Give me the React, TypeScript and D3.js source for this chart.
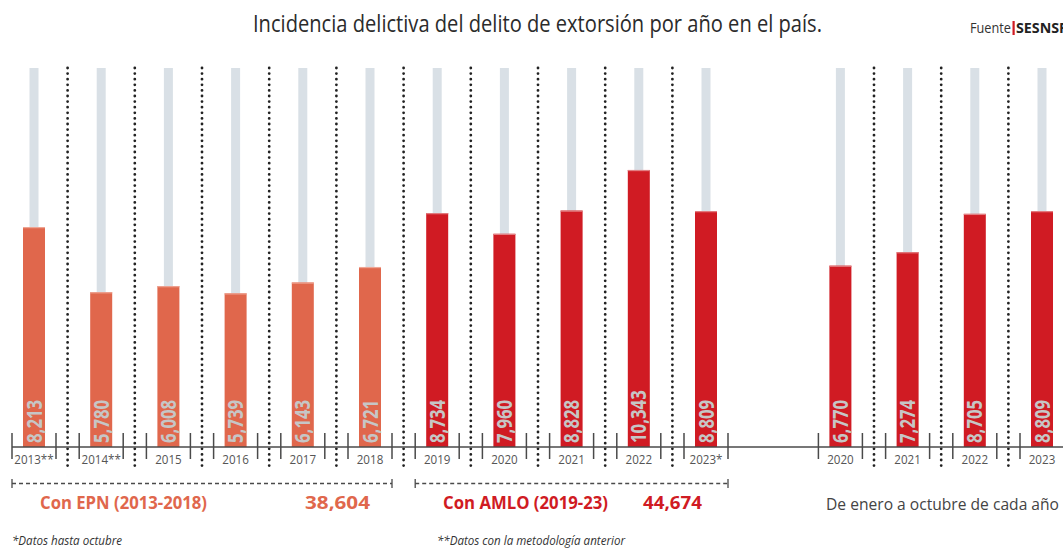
import React from "react";
import * as d3 from "d3";

const W = 1063;
const H = 549;

const yearsMain = ["2013**", "2014**", "2015", "2016", "2017", "2018", "2019", "2020", "2021", "2022", "2023*"];
const valuesMain = [8213, 5780, 6008, 5739, 6143, 6721, 8734, 7960, 8828, 10343, 8809];
const epnCount = 6; // first six years: EPN
const yearsOct = ["2020", "2021", "2022", "2023"];
const valuesOct = [6770, 7274, 8705, 8809];

const titleText = "Incidencia delictiva del delito de extorsión por año en el país.";
const epnLabel = "Con EPN (2013-2018)";
const amloLabel = "Con AMLO (2019-23)";
const octLabel = "De enero a octubre de cada año";
const note1 = "*Datos hasta octubre";
const note2 = "**Datos con la metodología anterior";

const ORANGE = "#e0674c";
const ORANGE_TOP = "#eea594";
const RED = "#d01b23";
const RED_TOP = "#e27f82";
const TRACK = "#d9e0e6";
const AXIS = "#4a4a4a";
const VALUE_TXT = "#c6c6c6";
const FONT = "'Open Sans', 'Noto Sans', sans-serif";

type Bar = { label: string; value: number; idx: number; color: string; top: string };

const barsMain: Bar[] = valuesMain.map((v, i) => ({
  label: yearsMain[i],
  value: v,
  idx: i,
  color: i < epnCount ? ORANGE : RED,
  top: i < epnCount ? ORANGE_TOP : RED_TOP,
}));
const octStart = yearsMain.length + 1;
const barsOct: Bar[] = valuesOct.map((v, i) => ({
  label: yearsOct[i],
  value: v,
  idx: octStart + i,
  color: RED,
  top: RED_TOP,
}));
const allBars = [...barsMain, ...barsOct];

const x = d3.scaleLinear().domain([0, 15]).range([34, 34 + 67.2 * 15]);
const baseY = 447;
const y = d3.scaleLinear().domain([0, 14150]).range([baseY, 68]);

const barW = 22;
const trackW = 9;
const tickHalf = 22;

const fmt = d3.format(",");

export default function App() {
  const epnTotal = d3.sum(valuesMain.slice(0, epnCount));
  const amloTotal = d3.sum(valuesMain.slice(epnCount));

  const separators: number[] = [];
  for (let i = 0; i < barsMain.length - 1; i++) separators.push((x(i) + x(i + 1)) / 2);
  for (let i = 0; i < barsOct.length - 1; i++) separators.push((x(octStart + i) + x(octStart + i + 1)) / 2);

  const bracket = (x0: number, x1: number, key: string) => (
    <g key={key} stroke={AXIS} strokeWidth={1.3}>
      <line x1={x0} x2={x1} y1={483.5} y2={483.5} strokeDasharray="4 3" />
      <line x1={x0} x2={x0} y1={479} y2={488} />
      <line x1={x1} x2={x1} y1={479} y2={488} />
    </g>
  );

  return (
    <svg
      width={W}
      height={H}
      style={{ position: "absolute", left: 0, top: 0, display: "block", background: "#fff" }}
      fontFamily={FONT}
    >
      <text x={253} y={32} fontSize={24} fill="#2b2b2b" textLength={569} lengthAdjust="spacingAndGlyphs">
        {titleText}
      </text>
      <text x={970} y={33} fontSize={15} fill="#333" textLength={41} lengthAdjust="spacingAndGlyphs">
        Fuente
      </text>
      <rect x={1012.5} y={21} width={2.2} height={14} fill={RED} />
      <text x={1016} y={33} fontSize={15} fontWeight={700} fill="#222" textLength={52} lengthAdjust="spacingAndGlyphs">
        SESNSP
      </text>

      {/* tracks */}
      {allBars.map((b) => (
        <rect key={"t" + b.idx} x={x(b.idx) - trackW / 2} y={y(14150)} width={trackW} height={baseY - y(14150)} fill={TRACK} />
      ))}

      {/* dotted separators */}
      {separators.map((sx, i) => (
        <line
          key={"s" + i}
          x1={sx}
          x2={sx}
          y1={68}
          y2={466}
          stroke="#222"
          strokeWidth={2.8}
          strokeLinecap="round"
          strokeDasharray="0 5.6"
        />
      ))}

      {/* bars */}
      {allBars.map((b) => (
        <g key={"b" + b.idx}>
          <rect x={x(b.idx) - barW / 2} y={y(b.value)} width={barW} height={baseY - y(b.value)} fill={b.color} />
          <rect x={x(b.idx) - barW / 2} y={y(b.value)} width={barW} height={1.2} fill={b.top} />
        </g>
      ))}

      {/* value labels */}
      {allBars.map((b) => (
        <g key={"v" + b.idx} transform={`translate(${x(b.idx) + 7.5},${443}) rotate(-90) scale(0.8,1)`}>
          <text x={0} y={0} fontSize={21} fontWeight={700} fill={VALUE_TXT} textAnchor="start">
            {fmt(b.value)}
          </text>
        </g>
      ))}

      {/* axis */}
      <line x1={x(0) - tickHalf} x2={W} y1={baseY} y2={baseY} stroke={AXIS} strokeWidth={1.5} />
      {allBars.map((b) => (
        <g key={"k" + b.idx} stroke={AXIS} strokeWidth={1.5}>
          <line x1={x(b.idx) - tickHalf} x2={x(b.idx) - tickHalf} y1={433} y2={459} />
          <line x1={x(b.idx) + tickHalf} x2={x(b.idx) + tickHalf} y1={433} y2={459} />
        </g>
      ))}
      {allBars.map((b) => (
        <g key={"y" + b.idx} transform={`translate(${x(b.idx)},${464}) scale(0.86,1)`}>
          <text x={0} y={0} fontSize={13.5} fill="#555" textAnchor="middle">
            {b.label}
          </text>
        </g>
      ))}

      {/* brackets */}
      {bracket(x(0) - tickHalf, x(epnCount - 1) + tickHalf, "br1")}
      {bracket(x(epnCount) - tickHalf, x(barsMain.length - 1) + tickHalf, "br2")}

      <text x={40} y={509} fontSize={17.5} fontWeight={700} fill={ORANGE} textLength={167} lengthAdjust="spacingAndGlyphs">
        {epnLabel}
      </text>
      <text x={305} y={509} fontSize={17.5} fontWeight={700} fill={ORANGE} textLength={65} lengthAdjust="spacingAndGlyphs">
        {fmt(epnTotal)}
      </text>
      <text x={443} y={509} fontSize={17.5} fontWeight={700} fill={RED} textLength={165} lengthAdjust="spacingAndGlyphs">
        {amloLabel}
      </text>
      <text x={643} y={509} fontSize={17.5} fontWeight={700} fill={RED} textLength={59} lengthAdjust="spacingAndGlyphs">
        {fmt(amloTotal)}
      </text>
      <text x={826} y={510} fontSize={17} fill="#444" textLength={233} lengthAdjust="spacingAndGlyphs">
        {octLabel}
      </text>

      <text x={12} y={545} fontSize={12} fontStyle="italic" fill="#333" textLength={110} lengthAdjust="spacingAndGlyphs">
        {note1}
      </text>
      <text x={437} y={545} fontSize={12} fontStyle="italic" fill="#333" textLength={188} lengthAdjust="spacingAndGlyphs">
        {note2}
      </text>
    </svg>
  );
}
